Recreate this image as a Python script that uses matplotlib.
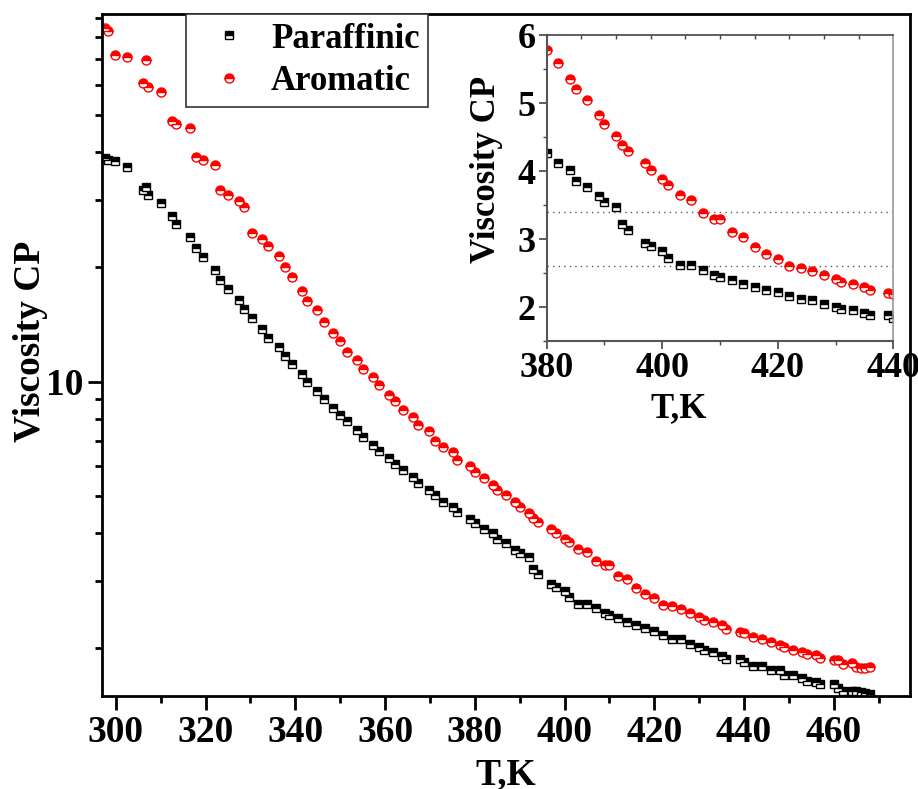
import matplotlib
matplotlib.use("Agg")
import matplotlib.pyplot as plt
from matplotlib.ticker import FixedLocator, NullFormatter, LogLocator, MultipleLocator

plt.rcParams['font.family'] = ['Liberation Serif', 'DejaVu Serif']
plt.rcParams['font.weight'] = 'bold'

# temperature (K), shared by both series
temp = [297.6, 298.3, 299.8, 302.5, 306.1, 306.6, 307.1, 310.0, 312.6, 313.3,
        316.6, 317.8, 319.4, 322.1, 323.2, 324.9, 327.4, 328.5, 330.4, 332.6,
        333.9, 336.3, 337.6, 339.2, 341.5, 342.6, 344.9, 346.4, 348.3, 350.0,
        351.6, 353.8, 355.0, 357.4, 358.7, 360.8, 362.1, 364.0, 366.3, 367.3,
        369.7, 371.1, 373.0, 375.1, 376.1, 378.9,
        380, 382, 384, 385, 387, 389, 390, 392, 393, 394,
        397, 398, 400, 401, 403, 405, 407, 409, 410, 412,
        414, 416, 418, 420, 422, 424, 426, 428, 430, 431,
        433, 435, 436, 439, 440,
        442, 444, 446, 448, 449, 451, 453, 454, 456, 457,
        460, 461, 462, 464, 465, 466, 467, 468]

paraffinic = [38.5, 38.2, 37.8, 36.6, 31.7, 32.4, 30.9, 29.4, 27.1, 25.9,
              23.9, 22.4, 21.2, 19.6, 18.5, 17.5, 16.4, 15.5, 14.7, 13.7,
              13.0, 12.35, 11.65, 11.1, 10.5, 9.96, 9.44, 9.02, 8.53, 8.19,
              7.87, 7.47, 7.17, 6.84, 6.59, 6.30, 6.08, 5.86, 5.61, 5.42,
              5.20, 5.04, 4.84, 4.70, 4.55, 4.37,
              4.27, 4.12, 4.01, 3.86, 3.77, 3.63, 3.55, 3.47, 3.22, 3.13,
              2.94, 2.90, 2.82, 2.73, 2.62, 2.62, 2.55, 2.48, 2.44, 2.40,
              2.34, 2.30, 2.26, 2.22, 2.17, 2.12, 2.11, 2.05, 2.01, 1.98,
              1.96, 1.91, 1.88, 1.88, 1.84,
              1.80, 1.80, 1.75, 1.75, 1.70, 1.70, 1.67, 1.64, 1.63, 1.61,
              1.61, 1.57, 1.55, 1.55, 1.55, 1.54, 1.53, 1.52]

aromatic = [84.5, 83.0, 72.0, 71.1, 60.5, 69.7, 59.3, 57.5, 48.3, 47.4,
            46.1, 38.9, 38.0, 36.9, 31.7, 30.8, 29.8, 28.7, 24.5, 23.6,
            22.7, 21.4, 20.0, 18.8, 17.3, 16.3, 15.4, 14.3, 13.4, 12.8,
            11.97, 11.4, 10.8, 10.3, 9.80, 9.25, 8.89, 8.44, 8.07, 7.70,
            7.42, 7.00, 6.76, 6.55, 6.24, 6.02,
            5.78, 5.59, 5.36, 5.20, 5.04, 4.83, 4.69, 4.52, 4.39, 4.29,
            4.12, 4.02, 3.88, 3.79, 3.65, 3.57, 3.39, 3.30, 3.30, 3.10,
            3.03, 2.88, 2.78, 2.71, 2.60, 2.58, 2.53, 2.47, 2.42, 2.37,
            2.34, 2.30, 2.25, 2.21, 2.19,
            2.14, 2.11, 2.08, 2.04, 2.01, 1.98, 1.96, 1.93, 1.92, 1.89,
            1.86, 1.86, 1.82, 1.83, 1.79, 1.78, 1.78, 1.79]

inset_lines = [3.4, 2.6]

sq = dict(marker='s', ls='none', ms=5.5, fillstyle='top', color='black',
          markerfacecoloralt='white', markeredgecolor='black', mew=1.0)
ci = dict(marker='o', ls='none', ms=6.5, fillstyle='top', color='red',
          markerfacecoloralt='white', markeredgecolor='red', mew=1.0)

fig = plt.figure(figsize=(9.18, 7.89), dpi=100)
ax = fig.add_axes([0.1111, 0.1179, 0.8802, 0.8644])

ax.plot(temp, paraffinic, label='Paraffinic', **sq)
ax.plot(temp, aromatic, label='Aromatic', **ci)

ax.set_yscale('log')
ax.set_xlim(296.9, 477.0)
ax.set_ylim(1.5, 92)
ax.xaxis.set_major_locator(MultipleLocator(20))
ax.xaxis.set_minor_locator(MultipleLocator(10))
ax.yaxis.set_major_locator(FixedLocator([10]))
ax.yaxis.set_major_formatter(plt.FixedFormatter(['10']))
ax.yaxis.set_minor_locator(LogLocator(base=10, subs=range(2, 10)))
ax.yaxis.set_minor_formatter(NullFormatter())
ax.tick_params(which='major', direction='out', length=10, width=2, labelsize=27)
ax.tick_params(which='minor', direction='out', length=5, width=2)
for s in ax.spines.values():
    s.set_linewidth(2)

ax.set_xlabel('T,K', fontsize=27, fontweight='bold')
ax.set_ylabel('Viscosity CP', fontsize=27, fontweight='bold')
ax.xaxis.set_label_coords(0.5, -0.09)
ax.yaxis.set_label_coords(-0.067, 0.52)

leg = ax.legend(loc='upper left', bbox_to_anchor=(0.104, 1.0), borderaxespad=0,
                fancybox=False, framealpha=1, handlelength=2.0,
                handletextpad=0.2, borderpad=0.25, labelspacing=0.27,
                prop={'weight': 'bold', 'size': 25})
leg.get_frame().set_edgecolor('#333333')
leg.get_frame().set_linewidth(1.2)

# inset
ins = fig.add_axes([0.5955, 0.5674, 0.3776, 0.3882])
t_in = [t for t in temp if 380 <= t <= 440]
p_in = [p for t, p in zip(temp, paraffinic) if 380 <= t <= 440]
a_in = [a for t, a in zip(temp, aromatic) if 380 <= t <= 440]
for y in inset_lines:
    ins.axhline(y, color='#555555', ls=(0, (1, 3)), lw=1.0)
ins.plot(t_in, p_in, **sq)
ins.plot(t_in, a_in, **ci)
ins.set_xlim(380, 440)
ins.set_ylim(1.5, 6)
ins.xaxis.set_major_locator(MultipleLocator(20))
ins.xaxis.set_minor_locator(MultipleLocator(10))
ins.yaxis.set_major_locator(MultipleLocator(1))
ins.yaxis.set_minor_locator(MultipleLocator(0.5))
ins.tick_params(which='major', direction='out', length=6, width=1.2,
                labelsize=26, color='#444444', pad=2)
ins.tick_params(which='minor', direction='out', length=3, width=1.0, color='#444444')
top = ins.secondary_xaxis('top')
top.set_xticks(range(386, 440, 6))
top.tick_params(direction='in', length=3, width=1.0, color='#444444', labeltop=False)
top.spines['top'].set_visible(False)
ins.spines['left'].set_color('#555555')
ins.spines['bottom'].set_color('#555555')
ins.spines['left'].set_linewidth(1.5)
ins.spines['bottom'].set_linewidth(1.5)
ins.spines['top'].set_color('#444444')
ins.spines['right'].set_color('#999999')
ins.spines['top'].set_linewidth(1.2)
ins.spines['right'].set_linewidth(1.2)
ins.set_xlabel('T,K', fontsize=25, fontweight='bold')
ins.set_ylabel('Viscosity CP', fontsize=25, fontweight='bold')
ins.xaxis.set_label_coords(0.38, -0.165)
ins.yaxis.set_label_coords(-0.125, 0.56)

fig.savefig('out.png', dpi=100)
